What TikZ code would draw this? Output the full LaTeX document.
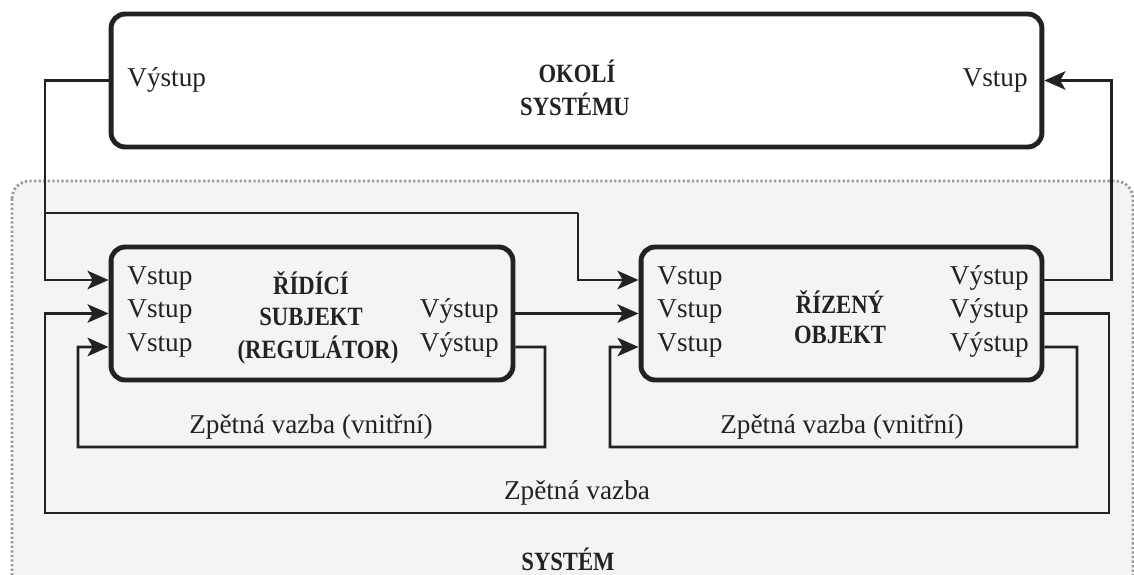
\documentclass[tikz,border=0pt]{standalone}
\usepackage{fontspec}
\setmainfont{Liberation Serif}
\newfontfamily\titlefont[FakeStretch=0.86]{Liberation Serif}
\usetikzlibrary{positioning}
\usetikzlibrary{arrows.meta}
\usetikzlibrary{calc}
\definecolor{ink}{HTML}{222222}
\definecolor{sysfill}{HTML}{F4F4F4}
\definecolor{dotgray}{HTML}{9A9A9A}

\begin{document}
\begin{tikzpicture}[x=0.02cm,y=-0.02cm,font=\fontsize{15.5}{18}\selectfont]
\tikzset{block/.style={rectangle,draw=ink,line width=2.8pt,rounded corners=8pt,minimum height=2.66cm}}
\tikzset{link/.style={draw=ink,line width=1.5pt}}
\tikzset{arrow/.style={link,-{Stealth[length=12pt,width=10.5pt,inset=3pt]}}}
\tikzset{title/.style={font=\titlefont\fontsize{15}{18}\selectfont\bfseries,text=ink,inner sep=0pt}}
\tikzset{port/.style={text=ink,inner sep=0pt}}
\clip (0,0) rectangle (1134,575);
% system area
\draw[dotgray,fill=sysfill,line width=1.6pt,dash pattern=on 1.3pt off 1.3pt,rounded corners=10pt] (12,181) rectangle (1133,650);
\node[title] (system) at (568,559) {SYSTÉM};

\node[block,fill=white,minimum width=18.62cm] (okoli) at (576.5,80.5) {};
\node[block,fill=sysfill,minimum width=8.04cm] (rs) at (312,313.5) {};
\node[block,fill=sysfill,minimum width=8.02cm] (ro) at (841.5,313.5) {};

\node[title] (okoli1) at (577,71) {OKOLÍ};
\node[title] (okoli2) at (575,104) {SYSTÉMU};
\node[port,anchor=mid west] (okout) at (127,82) {Výstup};
\node[port,anchor=mid east] (okin) at (1028,82) {Vstup};

\node[title] (rs1) at (311,283) {ŘÍDÍCÍ};
\node[title] (rs2) at (311,317) {SUBJEKT};
\node[title] (rs3) at (318,350) {(REGULÁTOR)};
\node[title] (ro1) at (840,302) {ŘÍZENÝ};
\node[title] (ro2) at (840,335) {OBJEKT};

\foreach \i/\y in {1/280,2/313.5,3/347}{
  \node[port,anchor=mid west] (rsvin\i) at (127,\y) {Vstup};
  \node[port,anchor=mid west] (rovin\i) at (657,\y) {Vstup};
  \node[port,anchor=mid east] (rovout\i) at (1029,\y) {Výstup};
  \coordinate (rsin\i) at ($(rs.west)+(0,\y-313.5)$);
  \coordinate (roin\i) at ($(ro.west)+(0,\y-313.5)$);
  \coordinate (roout\i) at ($(ro.east)+(0,\y-313.5)$);
}
\node[port,anchor=mid east] (rsvout1) at (499,313.5) {Výstup};
\node[port,anchor=mid east] (rsvout2) at (499,347) {Výstup};
\coordinate (rsout1) at (rs.east);
\coordinate (rsout2) at ($(rs.east)+(0,33.5)$);

\node[port] (fb1) at (311,427) {Zpětná vazba (vnitřní)};
\node[port] (fb2) at (842,427) {Zpětná vazba (vnitřní)};
\node[port] (fb) at (577,493) {Zpětná vazba};

% connectors
\coordinate (split) at (45,213);
\draw[arrow] (okoli.west) -| (45,280) -- (rsin1);
\draw[link] (split) -- (578,213);
\draw[arrow] (578,213) |- (roin1);
\draw[arrow] (rsout1) -- (roin2);
\draw[arrow] (rsout2) -| (545,447) -| (78,347) -- (rsin3);
\draw[arrow] (roout2) -| (1109,513) -| (45,313.5) -- (rsin2);
\draw[arrow] (roout3) -| (1077,447) -| (610,347) -- (roin3);
\draw[arrow] (roout1) -- ++(67,0) |- (okoli.east);
\end{tikzpicture}
\end{document}
